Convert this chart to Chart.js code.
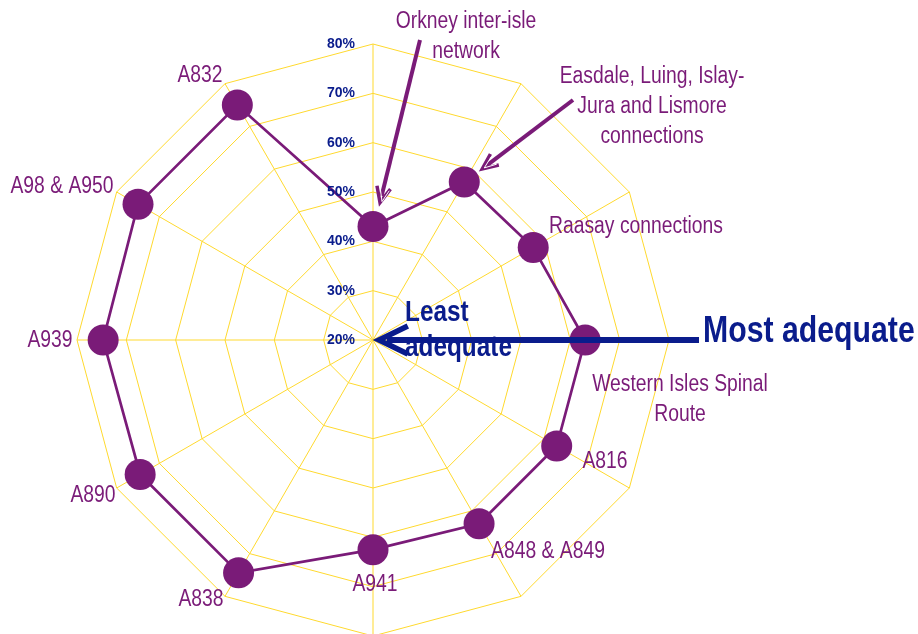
<!DOCTYPE html>
<html>
<head>
<meta charset="utf-8">
<script src="https://cdn.jsdelivr.net/npm/chart.js@4.4.1/dist/chart.umd.min.js"></script>
<style>
    html, body { margin: 0; padding: 0; background: #ffffff; overflow: hidden; }
    #wrap { width: 918px; height: 640px; position: relative; }
</style>
</head>
<body>
<div id="wrap"><canvas id="radar"></canvas></div>
<script>
// categories, clockwise from the top
const categories = [
    ["Orkney inter-isle", "network"],
    ["Easdale, Luing, Islay-", "Jura and Lismore", "connections"],
    ["Raasay connections"],
    ["Western Isles Spinal", "Route"],
    ["A816"],
    ["A848 & A849"],
    ["A941"],
    ["A838"],
    ["A890"],
    ["A939"],
    ["A98 & A950"],
    ["A832"],
];
// share (%) per route
const values = [43, 57, 57.5, 63, 63, 63, 62.5, 74.5, 74.5, 74.7, 75, 75];
const tickValues = [20, 30, 40, 50, 60, 70, 80];

const PURPLE = "#7a1b78";
const NAVY = "#0a1c8c";
const YELLOW = "#ffd92e";
const FONT = "'Liberation Sans', Arial, sans-serif";
const SQUEEZE = 0.84; // the original text is a condensed face

// where each category name sits, offset from the chart centre (layout only)
const labelOffsets = [
    [93, -303], [279, -233], [263, -113], [307, 60], [232, 122], [175, 212],
    [2, 245], [-172, 260], [-280, 156], [-323, 1], [-311, -153], [-173, -264],
];

function narrowText(ctx, text, x, y) {
    ctx.save();
    ctx.translate(x, y);
    ctx.scale(SQUEEZE, 1);
    ctx.fillText(text, 0, 0);
    ctx.restore();
}

function arrowHead(ctx, tipX, tipY, fromX, fromY, len, spread) {
    const a = Math.atan2(fromY - tipY, fromX - tipX);
    ctx.beginPath();
    ctx.moveTo(tipX + len * Math.cos(a - spread), tipY + len * Math.sin(a - spread));
    ctx.lineTo(tipX, tipY);
    ctx.lineTo(tipX + len * Math.cos(a + spread), tipY + len * Math.sin(a + spread));
    ctx.stroke();
}

function calloutArrow(ctx, x1, y1, x2, y2) {
    // purple arrow with a hollow look near the head
    ctx.save();
    ctx.strokeStyle = PURPLE;
    ctx.lineCap = "butt";
    ctx.lineWidth = 4;
    ctx.beginPath();
    ctx.moveTo(x1, y1);
    ctx.lineTo(x2 + (x1 - x2) * 0.04, y2 + (y1 - y2) * 0.04);
    ctx.stroke();
    ctx.lineWidth = 3.5;
    ctx.lineJoin = "miter";
    arrowHead(ctx, x2, y2, x1, y1, 17, 0.42);
    ctx.strokeStyle = "#ffffff";
    ctx.lineWidth = 1;
    arrowHead(ctx, x2 + 2, y2 - 1, x1, y1, 13, 0.36);
    ctx.restore();
}

const extras = {
    id: "extras",
    afterDatasetsDraw(chart) {
        const ctx = chart.ctx;
        const r = chart.scales.r;
        const cx = r.xCenter, cy = r.yCenter;
        const pts = chart.getDatasetMeta(0).data;

        // tick labels left of the vertical axis
        ctx.save();
        ctx.fillStyle = NAVY;
        ctx.font = "bold 14px " + FONT;
        ctx.textAlign = "right";
        ctx.textBaseline = "middle";
        tickValues.forEach((v) => {
            const y = cy - r.getDistanceFromCenterForValue(v);
            ctx.fillText(v + "%", cx - 18, y);
        });
        ctx.restore();

        // category names
        ctx.save();
        ctx.fillStyle = PURPLE;
        ctx.font = "23px " + FONT;
        ctx.textAlign = "center";
        ctx.textBaseline = "middle";
        const lh = 30;
        categories.forEach((lines, i) => {
            const [dx, dy] = labelOffsets[i];
            const y0 = cy + dy - ((lines.length - 1) * lh) / 2;
            lines.forEach((t, k) => narrowText(ctx, t, cx + dx, y0 + k * lh));
        });
        ctx.restore();

        // callout arrows to the two smallest values
        calloutArrow(ctx, cx + 47, cy - 300, pts[0].x + 7, pts[0].y - 24);
        calloutArrow(ctx, cx + 200, cy - 240, pts[1].x + 18, pts[1].y - 13);

        // most / least adequate arrow along the 90 degree axis
        ctx.save();
        ctx.strokeStyle = NAVY;
        ctx.lineWidth = 6;
        ctx.beginPath();
        ctx.moveTo(cx + 326, cy);
        ctx.lineTo(cx + 14, cy);
        ctx.stroke();
        ctx.lineWidth = 5.5;
        ctx.lineJoin = "miter";
        arrowHead(ctx, cx + 6, cy, cx + 100, cy, 32, 0.45);
        ctx.fillStyle = NAVY;
        ctx.textAlign = "left";
        ctx.textBaseline = "middle";
        ctx.font = "bold 36px " + FONT;
        narrowText(ctx, "Most adequate", cx + 330, cy - 8);
        ctx.font = "bold 29px " + FONT;
        narrowText(ctx, "Least", cx + 32, cy - 27);
        narrowText(ctx, "adequate", cx + 32, cy + 8);
        ctx.restore();
    },
};

new Chart(document.getElementById("radar").getContext("2d"), {
    type: "radar",
    data: {
        labels: categories,
        datasets: [
            {
                label: "Adequacy",
                data: values,
                borderColor: PURPLE,
                borderWidth: 2.7,
                backgroundColor: PURPLE,
                fill: false,
                pointRadius: 15.5,
                pointBackgroundColor: PURPLE,
                pointBorderWidth: 0,
            },
        ],
    },
    options: {
        responsive: true,
        maintainAspectRatio: false,
        animation: false,
        layout: { padding: { top: 44, bottom: 4, left: 77, right: 249 } },
        plugins: {
            legend: { display: false },
            tooltip: { enabled: false },
        },
        scales: {
            r: {
                min: 20,
                max: 80,
                ticks: { display: false, stepSize: 10 },
                grid: { color: YELLOW, lineWidth: 1, circular: false },
                angleLines: { color: YELLOW, lineWidth: 1 },
                pointLabels: { display: false },
            },
        },
    },
    plugins: [extras],
});
</script>
</body>
</html>
